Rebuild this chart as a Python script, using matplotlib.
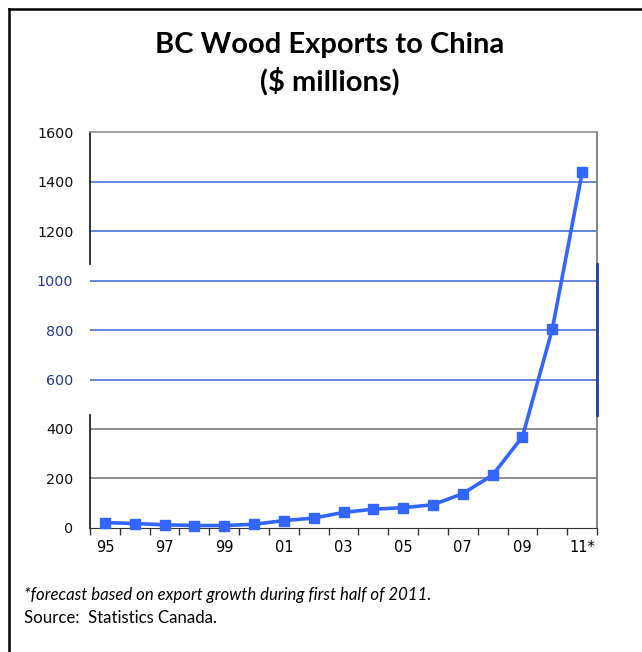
import matplotlib.pyplot as plt
from matplotlib.lines import Line2D

# BC wood exports to China, $ millions (2011 is a forecast)
years = ["95", "96", "97", "98", "99", "00", "01", "02", "03", "04",
         "05", "06", "07", "08", "09", "10", "11*"]
exports = [22, 18, 13, 10, 10, 15, 30, 40, 63, 76, 82, 94, 139, 214, 369, 804, 1437]
y_ticks = [0, 200, 400, 600, 800, 1000, 1200, 1400, 1600]

line_blue = "#3366ff"
grid_blue = "#4a70dc"
label_blue = "#25389a"

fig = plt.figure(figsize=(6.42, 6.52), dpi=100)
ax = fig.add_axes([0.1402, 0.1902, 0.7898, 0.6073])

x = [i + 0.5 for i in range(len(years))]
ax.plot(x, exports, color=line_blue, lw=2.6, marker="s", ms=7,
        markeredgecolor=line_blue, zorder=3, clip_on=False)

ax.set_xlim(0, len(years))
ax.set_ylim(0, 1600)

# gridlines: lower and upper ones gray, the middle band blue
for v in y_ticks[1:-1]:
    c = grid_blue if 600 <= v <= 1400 else "#7a7a7a"
    ax.axhline(v, color=c, lw=1.2, zorder=1)

ax.set_yticks(y_ticks)
ax.tick_params(axis="y", length=0, pad=12, labelsize=10.3)
for lab, v in zip(ax.get_yticklabels(), y_ticks):
    lab.set_color(label_blue if 600 <= v <= 1000 else "#111111")

# ticks on category boundaries, labels on every other category centre
ax.set_xticks(range(len(years) + 1))
ax.set_xticklabels([])
ax.tick_params(axis="x", which="major", length=5, width=1, color="#333333", direction="out")
ax.set_xticks(x[::2], minor=True)
ax.set_xticklabels(years[::2], minor=True)
ax.tick_params(axis="x", which="minor", length=0, pad=9, labelsize=10.5)

ax.spines["top"].set_color("#9a9a9a")
ax.spines["top"].set_linewidth(1.3)
ax.spines["bottom"].set_color("#333333")
ax.spines["right"].set_color("#7a7a7a")
ax.spines["right"].set_linewidth(1.3)
ax.spines["left"].set_visible(False)

# left axis line with a break in the middle, blue patch on the right edge
ax.axvline(0, ymin=0, ymax=0.285, color="#111111", lw=1.2, clip_on=False)
ax.axvline(0, ymin=0.667, ymax=1, color="#111111", lw=1.2, clip_on=False)
ax.axvline(len(years), ymin=0.285, ymax=0.667, color="#2040b0", lw=2.0, clip_on=False, zorder=4)

fig.text(0.514, 0.931, "BC Wood Exports to China", ha="center", va="center",
         fontsize=21, fontweight="bold", family="Lato")
fig.text(0.514, 0.876, "($ millions)", ha="center", va="center",
         fontsize=21, fontweight="bold", family="Lato")

fig.text(0.037, 0.088, "*forecast based on export growth during first half of 2011.",
         ha="left", va="center", fontsize=12.1, style="italic", family="Lato")
fig.text(0.037, 0.052, "Source:  Statistics Canada.", ha="left", va="center",
         fontsize=12.1, family="Lato")

# outer frame: top and left edges only
fig.add_artist(Line2D([0.0145, 1.0], [0.9855, 0.9855], transform=fig.transFigure,
                      color="black", lw=1.8))
fig.add_artist(Line2D([0.0145, 0.0145], [0.0, 0.9855], transform=fig.transFigure,
                      color="black", lw=1.8))

fig.savefig("out.png", dpi=100)
